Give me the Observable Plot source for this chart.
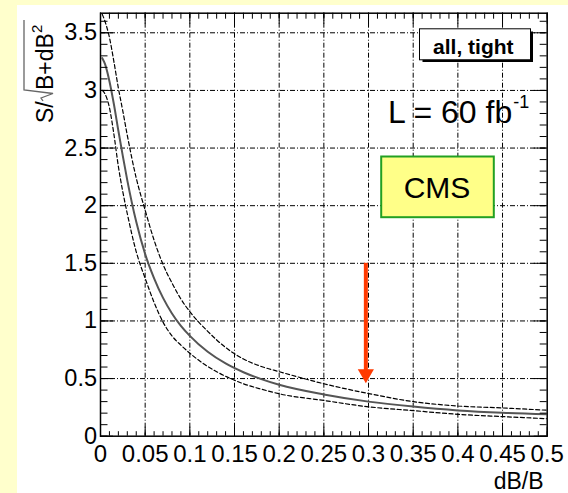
<!DOCTYPE html>
<html><head><meta charset="utf-8">
<script src="https://cdn.jsdelivr.net/npm/d3@7"></script>
<script src="https://cdn.jsdelivr.net/npm/@observablehq/plot@0.6"></script>
<style>
html,body{margin:0;padding:0;background:#ffffcc;width:568px;height:493px;overflow:hidden;}
#panel{position:absolute;left:17px;top:5px;width:551px;height:488px;background:#fff;}
#chart{position:absolute;left:0;top:0;}
</style></head><body><div id="panel"></div><div id="chart"></div>
<script>
// dB/B values and significance curves
const dBoverB = [0.002,0.005,0.01,0.015,0.02,0.025,0.03,0.04,0.05,0.06,0.07,0.08,0.09,0.1,0.12,0.14,0.16,0.18,0.2,0.25,0.3,0.35,0.4,0.45,0.5];
const central = [3.28,3.23,3.08,2.88,2.65,2.43,2.22,1.86,1.58,1.37,1.20,1.065,0.957,0.87,0.732,0.631,0.555,0.495,0.446,0.362,0.30,0.257,0.224,0.203,0.19];
const upper   = [3.66,3.60,3.46,3.25,3.02,2.82,2.61,2.24,1.96,1.70,1.49,1.33,1.19,1.08,0.91,0.77,0.67,0.605,0.56,0.455,0.37,0.30,0.262,0.245,0.225];
const lower   = [3.0,2.97,2.85,2.62,2.34,2.12,1.93,1.60,1.37,1.16,0.99,0.87,0.79,0.72,0.605,0.52,0.455,0.408,0.368,0.31,0.255,0.222,0.19,0.17,0.152];

const xTickValues = [0,0.05,0.1,0.15,0.2,0.25,0.3,0.35,0.4,0.45,0.5];
const xTickLabels = ["0","0.05","0.1","0.15","0.2","0.25","0.3","0.35","0.4","0.45","0.5"];
const yTickValues = [0,0.5,1,1.5,2,2.5,3,3.5];
const yTickLabels = ["0","0.5","1","1.5","2","2.5","3","3.5"];
const xMinorTicks = d3.range(0, 0.5001, 0.01);
const yMinorTicks = d3.range(0, 3.6501, 0.1);

const arrowMarks = [{x: 0.297, from: 1.5, to: 0.46}];
const legendText = ["all, tight"];
const lumiText = ["L = 60 fb"];
const lumiSup = ["-1"];
const cmsText = ["CMS"];
const xLabel = ["dB/B"];

const rows = dBoverB.map((x, i) => ({x, central: central[i], upper: upper[i], lower: lower[i]}));

const W = 568, H = 493, mL = 100, mR = 21.3, mT = 12.7, mB = 57.3;
const iw = W - mL - mR, ih = H - mT - mB;
const font = "'Liberation Sans', Arial, Helvetica, sans-serif";
const box = (x0, y0, x1, y1) => ({insetLeft: x0 - mL, insetTop: y0 - mT, insetRight: (W - mR) - x1, insetBottom: (H - mB) - y1});
const grid = {stroke: "#000", strokeWidth: 1, strokeDasharray: "5,2,1,2"};

const plot = Plot.plot({
  width: W, height: H,
  marginLeft: mL, marginRight: mR, marginTop: mT, marginBottom: mB,
  style: {background: "transparent", fontFamily: font, fontSize: "22px", color: "#000", overflow: "visible"},
  x: {domain: [0, 0.5], label: null},
  y: {domain: [0, 3.67], label: null},
  marks: [
    Plot.ruleX(xTickValues.slice(1, -1), {x: d => d, ...grid}),
    Plot.ruleY(yTickValues.slice(1), {y: d => d, ...grid}),
    Plot.line(rows, {x: "x", y: "upper", stroke: "#000", strokeWidth: 1.2, strokeDasharray: "4,2.5", curve: "monotone-x", clip: true}),
    Plot.line(rows, {x: "x", y: "lower", stroke: "#000", strokeWidth: 1.2, strokeDasharray: "4,2.5", curve: "monotone-x", clip: true}),
    Plot.line(rows, {x: "x", y: "central", stroke: "#555", strokeWidth: 2, curve: "monotone-x", clip: true}),
    // inward ticks
    Plot.tickX(xMinorTicks, {x: d => d, insetTop: ih - 4.5, stroke: "#000"}),
    Plot.tickX(xTickValues, {x: d => d, insetTop: ih - 9, stroke: "#000"}),
    Plot.tickX(xMinorTicks, {x: d => d, insetBottom: ih - 6, stroke: "#000"}),
    Plot.tickX(xTickValues, {x: d => d, insetBottom: ih - 11, stroke: "#000"}),
    Plot.tickY(yMinorTicks, {y: d => d, insetRight: iw - 7.5, stroke: "#000"}),
    Plot.tickY(yTickValues, {y: d => d, insetRight: iw - 13, stroke: "#000"}),
    Plot.tickY(yMinorTicks, {y: d => d, insetLeft: iw - 7, stroke: "#000"}),
    Plot.tickY(yTickValues, {y: d => d, insetLeft: iw - 13, stroke: "#000"}),
    Plot.axisX(xTickValues, {tickSize: 0, tickPadding: 9, label: null, fontSize: 24,
      tickFormat: d => xTickLabels[xTickValues.indexOf(d)]}),
    Plot.axisY(yTickValues, {tickSize: 0, tickPadding: 3.5, label: null, fontSize: 23.5,
      tickFormat: d => yTickLabels[yTickValues.indexOf(d)]}),
    Plot.frame({stroke: "#000", strokeWidth: 1.5}),
    // arrow
    Plot.ruleX(arrowMarks, {x: "x", y1: "from", y2: "to", stroke: "#ff3a00", strokeWidth: 4, insetBottom: 10}),
    Plot.dot(arrowMarks, {x: "x", y: "to", symbol: "triangle", r: 6, rotate: 180, fill: "#ff3a00", stroke: "none", dy: -9.3}),
    // legend box
    Plot.frame({...box(422, 31, 532.5, 61.5), fill: "#000", stroke: null}),
    Plot.frame({...box(419, 28.3, 530, 59.3), fill: "#fff", stroke: "#000", strokeWidth: 1}),
    Plot.text(legendText, {text: d => d, frameAnchor: "top-left", dx: 472.8 - mL, dy: 53.3 - mT,
      textAnchor: "middle", lineAnchor: "bottom", fontSize: 21, fontWeight: "bold", fill: "#000"}),
    // luminosity
    Plot.text(lumiText, {text: d => d, frameAnchor: "top-left", dx: 511.7 - mL, dy: 122.3 - mT,
      textAnchor: "end", lineAnchor: "bottom", fontSize: 32, fill: "#000"}),
    Plot.text(lumiSup, {text: d => d, frameAnchor: "top-left", dx: 512.7 - mL, dy: 107 - mT,
      textAnchor: "start", lineAnchor: "bottom", fontSize: 18, fill: "#000"}),
    // CMS box
    Plot.frame({...box(380.7, 156, 493.3, 216.7), fill: "#ffff88", stroke: "#22a022", strokeWidth: 2}),
    Plot.text(cmsText, {text: d => d, frameAnchor: "top-left", dx: 436.5 - mL, dy: 197.7 - mT,
      textAnchor: "middle", lineAnchor: "bottom", fontSize: 30, fill: "#000"}),
    // x label
    Plot.text(xLabel, {text: d => d, frameAnchor: "top-left", dx: 543 - mL, dy: 488 - mT,
      textAnchor: "end", lineAnchor: "bottom", fontSize: 23, fill: "#000"})
  ]
});

// y-axis label: S/sqrt(B+dB^2)
const svg = d3.select(plot);
const g = svg.append("g").attr("transform", "translate(53,123) rotate(-90)")
  .attr("font-family", font).attr("fill", "#000").attr("text-anchor", "start");
g.append("text").attr("x", 0).attr("y", 0).attr("font-size", 23).attr("text-anchor", "start").text("S/");
g.append("path").attr("d", "M22,-10L25,-12L29.5,0L33,-29L103,-29")
  .attr("fill", "none").attr("stroke", "#666").attr("stroke-width", 1.3);
g.append("text").attr("x", 33).attr("y", 0).attr("font-size", 23).attr("text-anchor", "start").text("B+dB");
g.append("text").attr("x", 90).attr("y", -11).attr("font-size", 15).attr("text-anchor", "start").text("2");

document.getElementById("chart").appendChild(plot);
</script></body></html>
